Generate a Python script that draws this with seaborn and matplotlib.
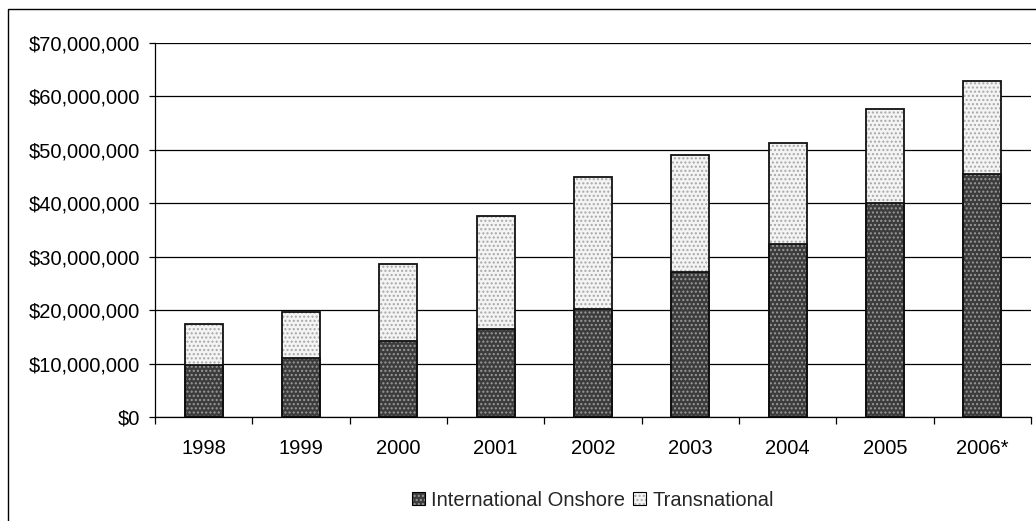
import matplotlib
matplotlib.use("Agg")
import matplotlib.pyplot as plt
from matplotlib.patches import Rectangle, Patch
from matplotlib.legend_handler import HandlerTuple
from matplotlib.ticker import FuncFormatter, MultipleLocator, FixedLocator
import seaborn as sns

years = ["1998", "1999", "2000", "2001", "2002", "2003", "2004", "2005", "2006*"]
international_onshore = [9.7e6, 11.0e6, 14.2e6, 16.5e6, 20.3e6, 27.2e6, 32.3e6, 40.1e6, 45.5e6]
transnational = [7.8e6, 8.7e6, 14.5e6, 21.2e6, 24.6e6, 21.9e6, 18.9e6, 17.6e6, 17.3e6]
totals = [a + b for a, b in zip(international_onshore, transnational)]

sns.set_theme(style="white")
plt.rcParams["font.family"] = ["Liberation Sans", "DejaVu Sans"]
plt.rcParams["hatch.linewidth"] = 1.0

fig = plt.figure(figsize=(10.36, 5.21), dpi=100)
ax = fig.add_axes([155 / 1036, 1 - 417 / 521, (1031 - 155) / 1036, (417 - 43) / 521])

dark_face, dark_dots = "#3c3c3c", "#9a9a9a"
light_face, light_dots = "#f4f4f4", "#a8a8a8"
fs = 14.5

# Stacked bars: totals first (light), then the onshore share on top (dark)
sns.barplot(x=years, y=totals, color=light_face, width=0.39, ax=ax, saturation=1)
sns.barplot(x=years, y=international_onshore, color=dark_face, width=0.39, ax=ax, saturation=1)

n = len(years)
for i, p in enumerate(list(ax.patches)):
    dots = light_dots if i < n else dark_dots
    p.set_facecolor(light_face if i < n else dark_face)
    p.set_hatch("....")
    p.set_edgecolor(dots)
    p.set_linewidth(0)
    x, y = p.get_xy()
    ax.add_patch(Rectangle((x, y), p.get_width(), p.get_height(), fill=False,
                           edgecolor="#111111", linewidth=1.3, zorder=3))

ax.set_ylim(0, 70e6)
ax.set_xlim(-0.5, n - 0.5)
ax.yaxis.set_major_locator(MultipleLocator(10e6))
ax.yaxis.set_major_formatter(FuncFormatter(lambda v, _: f"${v:,.0f}"))
ax.grid(axis="y", color="black", linewidth=0.9)
ax.set_axisbelow(True)
ax.get_ygridlines()[-1].set_color("#8a8a8a")

for s in ["top", "right"]:
    ax.spines[s].set_visible(False)
for s in ["left", "bottom"]:
    ax.spines[s].set_color("black")
    ax.spines[s].set_linewidth(0.9)

ax.xaxis.set_minor_locator(FixedLocator([i - 0.5 for i in range(n + 1)]))
ax.tick_params(axis="x", which="major", length=0, pad=16, labelsize=fs, colors="black")
ax.tick_params(axis="x", which="minor", length=5, width=0.9, color="black", direction="out", bottom=True)
ax.tick_params(axis="y", which="major", length=4, width=0.9, color="black", direction="out",
               left=True, pad=7, labelsize=fs, labelcolor="black")
ax.set_xlabel("")
ax.set_ylabel("")

def swatch(face, dots):
    return (Patch(facecolor=face, edgecolor=dots, hatch="....", linewidth=0),
            Patch(facecolor="none", edgecolor="black", linewidth=0.8))

handles = [swatch(dark_face, dark_dots), swatch(light_face, light_dots)]
fig.legend(handles, ["International Onshore", "Transnational"], loc="center",
           bbox_to_anchor=((155 + 1031) / 2 / 1036, 1 - 500 / 521), ncol=2, frameon=False,
           fontsize=fs, handlelength=0.65, handleheight=0.65, handletextpad=0.3,
           columnspacing=0.4, borderpad=0,
           handler_map={tuple: HandlerTuple(ndivide=1, pad=0)})

fig.patches.append(Rectangle((8 / 1036, -0.1), 1.2, 1 - 9 / 521 + 0.1, transform=fig.transFigure,
                             fill=False, edgecolor="black", linewidth=1.0))

fig.savefig("out.png", dpi=100)
